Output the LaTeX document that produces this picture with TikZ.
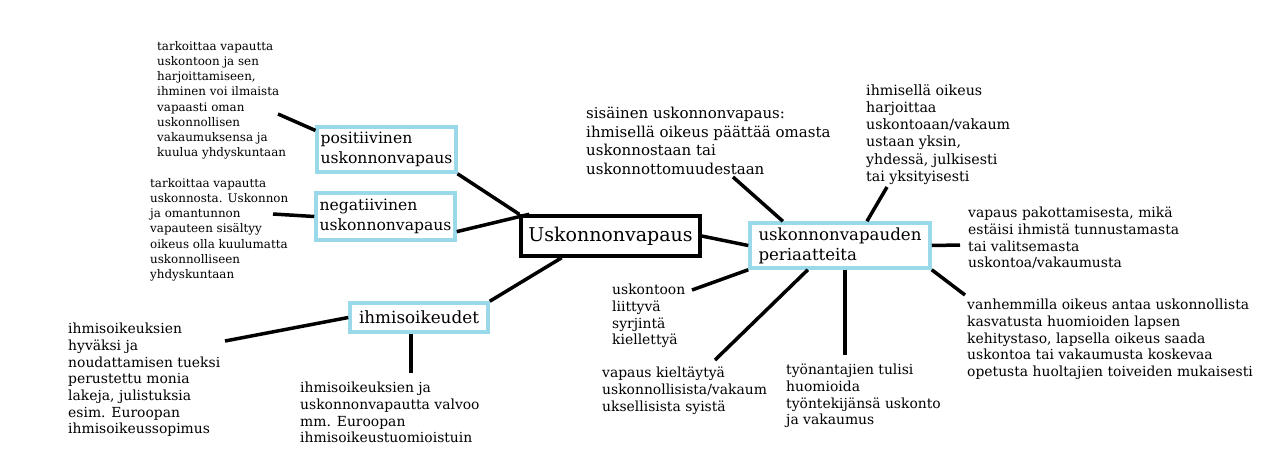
\documentclass[tikz,border=0pt]{standalone}
\usepackage{fontspec}
\setmainfont{DejaVu Serif}
\usetikzlibrary{positioning}
\definecolor{boxblue}{RGB}{153,217,234}

\begin{document}
\begin{tikzpicture}[x=1pt,y=-1pt,
  topic/.style={draw=boxblue, line width=3.5pt, fill=white, align=left, font=\fontsize{15.6}{20}\selectfont},
  root/.style={draw=black, line width=3.5pt, fill=white, font=\fontsize{19}{22}\selectfont},
  note/.style={anchor=north west, align=left, inner sep=0pt, font=\fontsize{13.9}{16.7}\selectfont},
  smallnote/.style={note, font=\fontsize{11.9}{15.2}\selectfont},
  link/.style={line width=3.5pt}]
\fill[white] (0,0) rectangle (1280,459);
\useasboundingbox (0,0) rectangle (1280,459);

% boxes
\node[root, minimum width=179, minimum height=40] (vapaus) at (610.5,236) {Uskonnonvapaus};
\node[topic, minimum width=137, minimum height=45] (pos) at (386.5,149.5) {positiivinen\\uskonnonvapaus};
\node[topic, minimum width=139, minimum height=47] (neg) at (385.5,216.5) {negatiivinen\\uskonnonvapaus};
\node[topic, minimum width=138, minimum height=29, font=\fontsize{16.8}{20}\selectfont] (ihmis) at (419,317.5) {ihmisoikeudet};
\node[topic, minimum width=180, minimum height=45, font=\fontsize{16.6}{20}\selectfont] (peri) at (840,245.5) {uskonnonvapauden\\periaatteita};

% notes
\node[smallnote] (posnote) at (157,41) {tarkoittaa vapautta\\uskontoon ja sen\\harjoittamiseen,\\ihminen voi ilmaista\\vapaasti oman\\uskonnollisen\\vakaumuksensa ja\\kuulua yhdyskuntaan};
\node[smallnote] (negnote) at (150,178) {tarkoittaa vapautta\\uskonnosta. Uskonnon\\ja omantunnon\\vapauteen sisältyy\\oikeus olla kuulumatta\\uskonnolliseen\\yhdyskuntaan};
\node[note] (lawnote) at (68,323) {ihmisoikeuksien\\hyväksi ja\\noudattamisen tueksi\\perustettu monia\\lakeja, julistuksia\\esim. Euroopan\\ihmisoikeussopimus};
\node[note] (courtnote) at (300,382) {ihmisoikeuksien ja\\uskonnonvapautta valvoo\\mm. Euroopan\\ihmisoikeustuomioistuin};
\node[note, font=\fontsize{15}{18.5}\selectfont] (innernote) at (586,107) {sisäinen uskonnonvapaus:\\ihmisellä oikeus päättää omasta\\uskonnostaan tai\\uskonnottomuudestaan};
\node[note, font=\fontsize{14.2}{17.3}\selectfont] (practnote) at (866,84) {ihmisellä oikeus\\harjoittaa\\uskontoaan/vakaum\\ustaan yksin,\\yhdessä, julkisesti\\tai yksityisesti};
\node[note] (forcenote) at (968,207) {vapaus pakottamisesta, mikä\\estäisi ihmistä tunnustamasta\\tai valitsemasta\\uskontoa/vakaumusta};
\node[note] (discnote) at (612,284) {uskontoon\\liittyvä\\syrjintä\\kiellettyä};
\node[note] (refusenote) at (602,367) {vapaus kieltäytyä\\uskonnollisista/vakaum\\uksellisista syistä};
\node[note] (worknote) at (786,364) {työnantajien tulisi\\huomioida\\työntekijänsä uskonto\\ja vakaumus};
\node[note] (parentnote) at (967,299) {vanhemmilla oikeus antaa uskonnollista\\kasvatusta huomioiden lapsen\\kehitystaso, lapsella oikeus saada\\uskontoa tai vakaumusta koskevaa\\opetusta huoltajien toiveiden mukaisesti};

% free ends
\coordinate (p1) at (278,114);
\coordinate (n1) at (273,214);
\coordinate (h1) at (225,341);
\coordinate (h2) at (411,373);
\coordinate (s1) at (733,177);
\coordinate (i1) at (887,187);
\coordinate (v1) at (960,245);
\coordinate (v2) at (965,295);
\coordinate (u1) at (692,290);
\coordinate (k1) at (715,360);
\coordinate (t1) at (845,355);

% links
\draw[link] (pos.165) -- (p1);
\draw[link] (pos.south east) -- (vapaus.north west);
\draw[link] (neg.west) -- (n1);
\draw[link] (neg.-12) -- (vapaus.165);
\draw[link] (vapaus.-156) -- (ihmis.north east);
\draw[link] (ihmis.west) -- (h1);
\draw[link] (h2 |- ihmis.south) -- (h2);
\draw[link] (vapaus.east) -- (peri.west);
\draw[link] (peri.157) -- (s1);
\draw[link] (peri.42) -- (i1);
\draw[link] (peri.east) -- (v1);
\draw[link] (peri.south east) -- (v2);
\draw[link] (peri.south west) -- (u1);
\draw[link] (peri.-143) -- (k1);
\draw[link] (t1 |- peri.south) -- (t1);
\end{tikzpicture}
\end{document}
